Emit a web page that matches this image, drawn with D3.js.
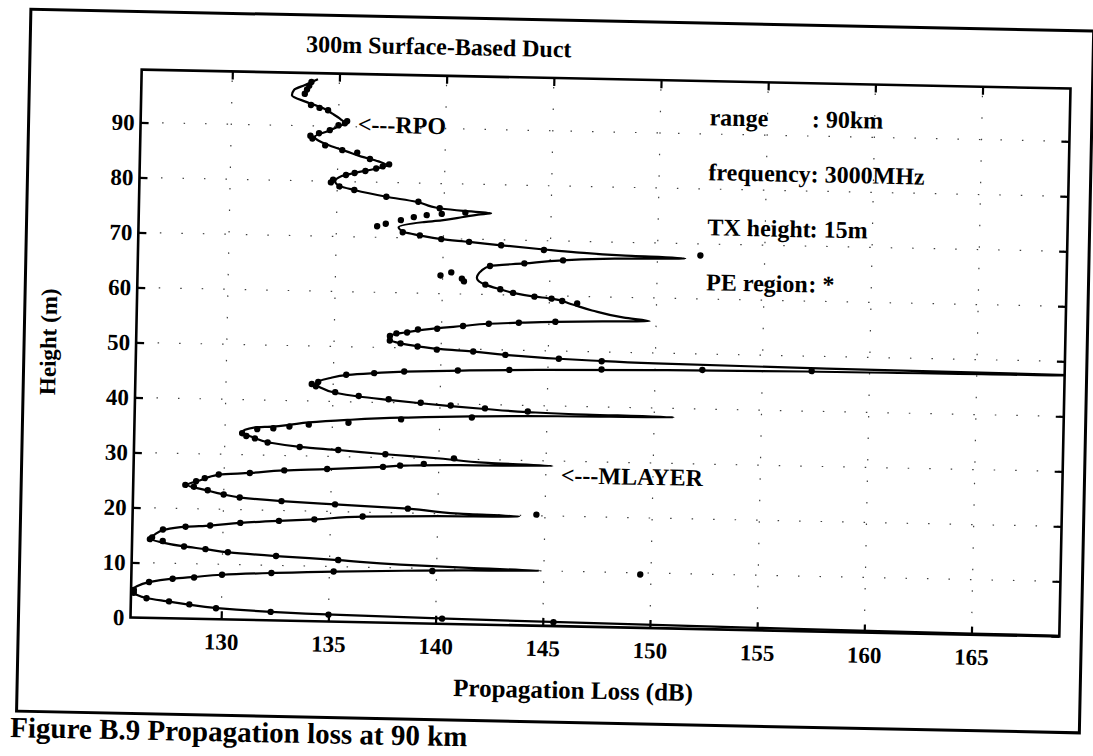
<!DOCTYPE html>
<html><head><meta charset="utf-8">
<script src="https://cdn.jsdelivr.net/npm/d3@7"></script>
<style>
body{margin:0;background:#fff;}
svg{display:block;}
text{font-family:"Liberation Serif","Times New Roman",serif;font-weight:bold;fill:#000;}
</style>
</head><body>
<svg id="chart" width="1093" height="756"></svg>
<script>
// ---- data ----
const chartTitle = "300m Surface-Based Duct";
const xLabel = "Propagation Loss (dB)";
const yLabel = "Height (m)";
const caption = "Figure B.9  Propagation loss at 90 km";
const xTicks = [130, 135, 140, 145, 150, 155, 160, 165];
const yTicks = [0, 10, 20, 30, 40, 50, 60, 70, 80, 90];
const xDomain = [125.77, 169.1];
const yDomain = [0, 99.6];

// solid curve (height m, loss dB)
const lineHeight = [0.0,0.2,0.45,0.7,0.95,1.25,1.55,2.0,2.6,3.1,3.6,4.2,4.9,5.6,6.5,7.2,7.6,8.1,8.6,9.1,9.5,9.8,10.0,10.25,10.6,11.2,11.7,12.2,12.7,13.1,13.8,14.4,15.1,16.1,16.7,17.0,17.6,18.1,18.5,19.2,19.55,19.8,20.1,20.8,21.3,21.7,22.2,22.7,23.4,24.3,25.2,26.3,26.7,27.3,27.7,28.3,28.6,28.9,29.1,29.4,30.0,30.6,31.2,31.6,32.3,33.2,34.1,35.0,35.2,35.6,36.1,36.7,37.3,37.8,38.15,38.4,38.6,38.8,39.2,39.6,40.0,40.5,41.0,41.6,42.5,43.3,44.2,44.9,45.3,45.7,46.1,46.5,46.9,47.2,47.5,47.8,48.1,48.4,48.6,49.1,49.6,49.9,50.3,50.8,51.5,52.3,52.8,53.4,54.2,54.7,55.0,55.3,55.55,55.75,56.3,57.5,58.6,59.5,59.8,60.4,61.0,61.8,63.0,64.3,65.2,65.8,66.5,67.0,67.3,67.6,68.0,68.4,69.0,69.5,69.9,70.5,71.0,71.9,72.9,73.3,74.0,74.5,74.8,75.1,75.5,76.6,77.4,78.5,79.2,80.0,81.0,81.6,82.4,83.1,83.8,84.6,85.5,86.5,88.0,89.1,90.0,90.6,91.3,92.3,93.2,94.3,95.5,96.5,97.4,98.5];
const lineLoss = [178,165,155,147,140.5,135.2,132.3,129.8,128.4,127.4,126.5,126.0,125.8,126.0,126.6,127.7,128.7,130.0,132.3,135.2,138.5,141.5,144.8,141.5,138.3,135.4,132.5,130.3,129.2,128.2,127.1,126.6,126.8,127.3,128.3,129.4,130.8,132.6,134.3,136.6,140,143.8,141.0,138.6,135.2,132.7,130.8,130.0,129.2,128.3,128.9,129.8,131.2,132.8,134.8,137.4,138.4,141,145.3,142.3,140.2,137.5,135.3,133.6,132.1,131.3,130.8,131.4,132.2,133.0,133.9,135.7,138.2,141.5,145.5,150.9,146,144.1,142.1,140.5,139.1,137.6,136.2,135.1,134.4,134.2,134.8,135.7,136.9,138.3,141,144.5,150,157,170,158,150,147,145.5,143,141.4,140.0,139.0,138.1,137.6,137.7,138.3,139.2,141.0,142.2,143.6,145.3,147.5,149.7,148.5,147.0,146.0,145.1,144.3,143.3,142.7,142.0,141.6,141.8,142.2,143.8,145.6,148.0,151.3,148.3,146.2,144.7,142.7,141.2,139.9,138.9,138.2,137.9,139.0,139.9,140.9,141.6,142.2,140.9,139.8,138.7,137.3,135.8,135.1,134.9,135.2,135.8,136.7,137.3,136.9,136.1,135.4,134.6,133.9,134.5,135.0,135.3,135.1,134.7,134.3,133.5,132.8,132.9,133.4,134.0];

// PE region points (height m, loss dB)
const peHeight = [0.7,0.95,1.24,1.54,2.0,2.6,3.07,3.55,4.5,5.0,6.5,7.2,7.5,8.1,8.6,9.1,9.55,9.7,11.2,11.7,12.2,12.7,13.1,14.0,14.3,14.6,16.1,16.7,17.0,17.6,18.1,18.5,19.2,20.2,20.8,21.3,21.7,22.2,22.7,23.4,24.0,24.3,25.0,25.6,26.3,26.7,27.3,27.7,28.3,28.6,29.0,30.1,30.6,31.2,31.6,32.3,33.0,33.4,33.9,34.7,34.9,35.3,35.7,36.2,37.0,37.6,38.9,39.3,39.7,40.1,40.6,41.1,41.7,42.7,43.1,43.5,44.9,45.3,45.7,46.1,46.4,46.8,47.1,47.3,48.3,48.6,49.1,49.6,49.8,50.3,50.8,51.3,52.1,52.6,52.8,53.4,53.6,54.2,54.7,55.0,55.3,58.7,59.1,59.5,59.8,60.4,61.0,61.8,62.3,62.8,63.3,63.9,65.2,65.8,66.5,67.9,68.3,69.0,69.5,69.9,70.5,71.0,72.0,72.5,73.2,73.8,74.2,74.5,74.8,75.5,76.6,77.4,78.5,79.1,79.8,80.3,81.2,81.6,82.0,82.5,82.9,83.3,84.2,85.3,85.7,86.5,87.7,88.2,88.7,89.3,90.2,90.6,91.0,92.9,93.3,93.8,95.8,96.6,97.3,98.0];
const peLoss = [145.5,140.3,135.0,132.3,129.75,128.5,127.55,126.5,125.9,125.9,126.6,127.7,128.7,130.0,132.3,135.2,139.8,149.5,135.4,132.5,130.25,129.2,128.2,127.2,126.6,126.7,127.2,128.25,129.4,130.8,132.6,134.25,136.5,144.6,138.6,135.2,132.7,130.75,130.0,129.25,128.6,128.2,128.7,129.1,129.75,131.2,132.8,134.8,137.4,138.2,139.3,140.7,137.5,135.3,133.5,132.0,131.4,131.0,130.8,131.5,132.25,133.0,133.9,135.75,138.2,141.5,144.1,142.1,140.5,139.1,137.6,136.2,135.1,134.2,134.0,134.3,135.6,136.9,138.3,140.8,143.2,147.5,152.2,157.3,147.5,145.5,143.0,141.5,139.8,138.9,138.1,137.6,137.6,137.9,138.4,138.9,139.8,141.0,142.2,143.6,145.3,146.3,145.6,145.1,144.3,143.3,142.7,142.0,141.0,140.9,139.9,140.4,142.2,143.8,145.6,152.0,144.7,142.7,141.2,139.9,138.9,138.1,136.9,137.3,138.0,138.6,139.2,139.9,141.0,139.8,138.8,137.3,135.8,135.1,134.7,134.8,135.4,135.8,136.3,136.8,137.1,137.4,136.5,135.9,135.2,134.4,133.8,133.7,134.1,134.6,135.0,135.3,135.4,134.5,134.1,133.7,133.4,133.5,133.6,133.7];

const infoLabels = ["range", "frequency", "TX height", "PE region"];
const infoValues = [": 90km", ": 3000MHz", ": 15m", ": *"];
const infoHeights = [91.6, 81.6, 71.6, 61.6];
const infoLoss = 152.3;
const arrowNotes = [{text: "<---RPO", loss: 135.9, h: 89.0}, {text: "<---MLAYER", loss: 145.7, h: 26.0}];

// ---- drawing ----
const svg = d3.select("#chart");
const root = svg.append("g").attr("transform", "rotate(1.17,600.5,352.75)");
const L = 136, R = 1065, T = 79, B = 627;
const x = d3.scaleLinear().domain(xDomain).range([L, R]);
const y = d3.scaleLinear().domain(yDomain).range([B, T]);

// outer page border
root.append("rect").attr("x", 24).attr("y", 21).attr("width", 1063).attr("height", 702)
  .attr("fill", "none").attr("stroke", "#000").attr("stroke-width", 3);

// grid (dotted)
const grid = root.append("g").attr("stroke", "#000").attr("stroke-width", 1.2)
  .attr("stroke-dasharray", "1.5 20").attr("opacity", 0.75);
grid.selectAll(".gx").data(xTicks).join("line")
  .attr("x1", d => x(d)).attr("x2", d => x(d)).attr("y1", B).attr("y2", T);
grid.selectAll(".gy").data(yTicks.filter(d => d > 0)).join("line")
  .attr("y1", d => y(d)).attr("y2", d => y(d)).attr("x1", L).attr("x2", R);

// axes
const tickLen = 8;
const axB = root.append("g").attr("transform", `translate(0,${B})`)
  .call(d3.axisBottom(x).tickValues(xTicks).tickSizeInner(-tickLen).tickSizeOuter(0).tickPadding(14));
const axT = root.append("g").attr("transform", `translate(0,${T})`)
  .call(d3.axisTop(x).tickValues(xTicks).tickSizeInner(-tickLen).tickSizeOuter(0).tickFormat(""));
const axL = root.append("g").attr("transform", `translate(${L},0)`)
  .call(d3.axisLeft(y).tickValues(yTicks).tickSizeInner(-tickLen).tickSizeOuter(0).tickPadding(6));
const axR = root.append("g").attr("transform", `translate(${R},0)`)
  .call(d3.axisRight(y).tickValues(yTicks).tickSizeInner(-tickLen).tickSizeOuter(0).tickFormat(""));
[axB, axT, axL, axR].forEach(a => {
  a.select(".domain").remove();
  a.selectAll(".tick line").attr("stroke", "#000").attr("stroke-width", 2.2);
  a.selectAll(".tick text").attr("font-size", 23).attr("font-family", "Liberation Serif").attr("font-weight", "bold").attr("fill", "#000");
});
axL.selectAll(".tick line").filter(d => d === 0).remove();

// frame
root.append("rect").attr("x", L).attr("y", T).attr("width", R - L).attr("height", B - T)
  .attr("fill", "none").attr("stroke", "#000").attr("stroke-width", 2.6);

// clip
svg.append("defs").append("clipPath").attr("id", "clip")
  .append("rect").attr("x", L).attr("y", T).attr("width", R - L).attr("height", B - T);
const plot = root.append("g").attr("clip-path", "url(#clip)");

const linePts = lineHeight.map((h, i) => [lineLoss[i], h]);
plot.append("path").datum(linePts)
  .attr("d", d3.line().x(d => x(d[0])).y(d => y(d[1])).curve(d3.curveMonotoneY))
  .attr("fill", "none").attr("stroke", "#000").attr("stroke-width", 2.2);

const pePts = peHeight.map((h, i) => [peLoss[i], h]);
plot.selectAll("circle.pe").data(pePts).join("circle")
  .attr("class", "pe").attr("cx", d => x(d[0])).attr("cy", d => y(d[1])).attr("r", 3.2).attr("fill", "#000");

// title
root.append("text").attr("x", 300).attr("y", 58).attr("font-size", 24).text(chartTitle);

// info annotations
infoLabels.forEach((t, i) => {
  root.append("text").attr("x", x(infoLoss)).attr("y", y(infoHeights[i])).attr("font-size", 24).text(t);
});
const colonX = x(infoLoss) + root.append("text").attr("font-size", 24).attr("opacity", 0).text("frequency").node().getComputedTextLength();
infoValues.forEach((t, i) => {
  root.append("text").attr("x", colonX).attr("y", y(infoHeights[i])).attr("font-size", 24).text(t);
});

arrowNotes.forEach(a => {
  root.append("text").attr("x", x(a.loss)).attr("y", y(a.h)).attr("font-size", 24).text(a.text);
});

// axis titles
root.append("text").attr("x", 580).attr("y", 699).attr("text-anchor", "middle").attr("font-size", 25).text(xLabel);
root.append("text").attr("transform", `translate(56,${(T + B) / 2}) rotate(-90)`).attr("text-anchor", "middle").attr("font-size", 23).text(yLabel);

// caption
root.append("text").attr("x", 18).attr("y", 749).attr("font-size", 29).text(caption);
</script>
</body></html>
